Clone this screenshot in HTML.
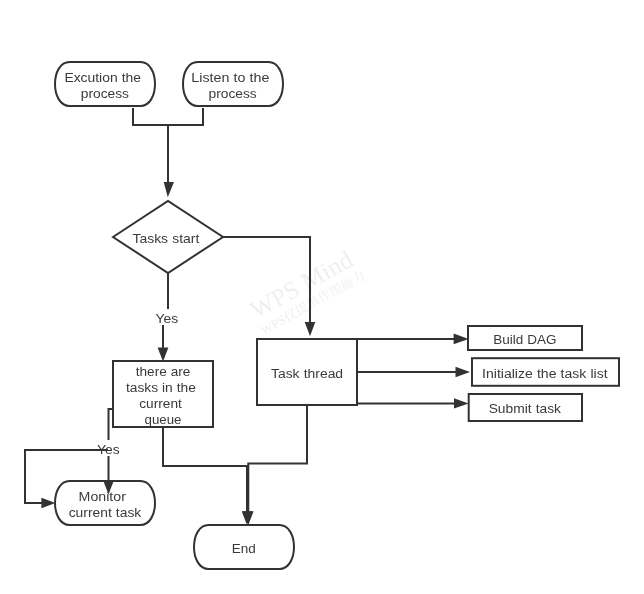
<!DOCTYPE html>
<html lang="en">
<head>
<meta charset="utf-8">
<title>Flowchart</title>
<style>
html,body{margin:0;padding:0;background:#fff;}
body{width:644px;height:594px;overflow:hidden;}
svg{display:block;will-change:transform;}
text{font-family:"Liberation Sans","Noto Sans CJK SC",sans-serif;word-spacing:0.2px;}
.wm text{fill:#efefef;word-spacing:0;}
.wm1{font-family:"Liberation Serif","Noto Serif CJK SC",serif;font-size:25.2px;}
.wm2{font-family:"Liberation Serif","Noto Serif CJK SC",serif;font-size:13px;}
</style>
</head>
<body>
<svg width="644" height="594" viewBox="0 0 644 594">
<rect x="0" y="0" width="644" height="594" fill="#fff"/>
<g class="wm" transform="translate(305.4,291.9) rotate(-29)"><text class="wm1" x="0" y="0" text-anchor="middle">WPS Mind</text><text class="wm2" x="1.2" y="17.5" text-anchor="middle">WPS仅提供作图能力</text></g>
<g stroke="#323232" stroke-width="2" fill="#fff" stroke-linejoin="miter">
<path d="M133 108 L133 125 L168 125 L168 190" fill="none" stroke-width="2"/>
<path d="M203 108 L203 125 L168 125" fill="none" stroke-width="2"/>
<polygon points="167.8,197.2 163.7,181.9 174.0,182.1" fill="#323232" stroke="none"/>
<path d="M223 237 L310 237 L310 328" fill="none" stroke-width="2"/>
<polygon points="310.00,336.30 304.70,322.00 315.30,322.00" fill="#323232" stroke="none"/>
<path d="M168 273 L168 317 L163 317 L163 350" fill="none" stroke-width="2"/>
<polygon points="163.00,361.50 157.60,347.50 168.40,347.50" fill="#323232" stroke="none"/>
<path d="M163 427 L163 466 L247 466 L247 515" fill="none" stroke-width="2"/>
<polygon points="247.00,525.00 241.70,511.20 252.30,511.20" fill="#323232" stroke="none"/>
<path d="M307 405 L307 463.5 L248.3 463.5 L248.3 515" fill="none" stroke-width="2"/>
<polygon points="248.30,525.00 243.00,511.20 253.60,511.20" fill="#323232" stroke="none"/>
<path d="M357 339 L458 339" fill="none" stroke-width="2"/>
<polygon points="468.60,338.90 453.60,333.60 453.60,344.20" fill="#323232" stroke="none"/>
<path d="M357 372 L460 372" fill="none" stroke-width="2"/>
<polygon points="470.00,372.00 455.50,366.70 455.50,377.30" fill="#323232" stroke="none"/>
<path d="M357 403.5 L458 403.5" fill="none" stroke-width="2"/>
<polygon points="468.60,403.40 454.00,398.30 454.00,408.50" fill="#323232" stroke="none"/>
<path d="M69.67 62 L140.33 62 C159.89 62 159.89 106 140.33 106 L69.67 106 C50.11 106 50.11 62 69.67 62 Z"/>
<path d="M197.67 62 L268.33 62 C287.89 62 287.89 106 268.33 106 L197.67 106 C178.11 106 178.11 62 197.67 62 Z"/>
<path d="M113 237.0 L168.0 201 L223 237.0 L168.0 273 Z"/>
<rect x="113" y="361" width="100" height="66"/>
<rect x="257" y="339" width="100" height="66"/>
<path d="M69.67 481 L140.33 481 C159.89 481 159.89 525 140.33 525 L69.67 525 C50.11 525 50.11 481 69.67 481 Z"/>
<path d="M208.67 525 L279.33 525 C298.89 525 298.89 569 279.33 569 L208.67 569 C189.11 569 189.11 525 208.67 525 Z"/>
<rect x="468" y="326" width="114" height="24"/>
<rect x="472" y="358.2" width="147" height="27.6"/>
<rect x="468.7" y="394" width="113.3" height="27"/>
<path d="M113 409 L108.5 409 L108.5 485" fill="none" stroke-width="2"/>
<polygon points="108.50,494.60 103.20,480.60 113.80,480.60" fill="#323232" stroke="none"/>
</g>
<rect x="154" y="309" width="25" height="16" fill="#fff"/>
<rect x="96" y="440" width="25" height="16" fill="#fff"/>
<g stroke="#323232" stroke-width="2" fill="none">
<path d="M108 450 L25 450 L25 503 L45 503" fill="none" stroke-width="2"/>
<polygon points="55.40,503.00 41.40,497.70 41.40,508.30" fill="#323232" stroke="none"/>
</g>
<g fill="#3a3a3a" font-size="13.3">
<text transform="translate(64.43,81.9) scale(1.0443,1)">Excution the</text>
<text transform="translate(80.8,98.0) scale(1.0343,1)">process</text>
<text transform="translate(191.29,81.9) scale(1.0728,1)">Listen to the</text>
<text transform="translate(208.49,98.0) scale(1.0365,1)">process</text>
<text transform="translate(132.44,242.7) scale(1.0493,1)">Tasks start</text>
<text transform="translate(155.41,323.0) scale(1.0491,1)">Yes</text>
<text transform="translate(135.74,375.7) scale(1.0242,1)">there are</text>
<text transform="translate(125.94,391.6) scale(1.0348,1)">tasks in the</text>
<text transform="translate(139.26,407.5) scale(1.0289,1)">current</text>
<text transform="translate(144.5,423.5) scale(1.0007,1)">queue</text>
<text transform="translate(97.11,453.8) scale(1.0443,1)">Yes</text>
<text transform="translate(270.94,377.6) scale(1.0475,1)">Task thread</text>
<text transform="translate(78.6,500.8) scale(1.0674,1)">Monitor</text>
<text transform="translate(68.65,516.7) scale(1.042,1)">current task</text>
<text transform="translate(231.66,552.8) scale(1.0161,1)">End</text>
<text transform="translate(493.16,344.1) scale(1.0162,1)">Build DAG</text>
<text transform="translate(482.08,378.4) scale(1.057,1)">Initialize the task list</text>
<text transform="translate(488.65,413.2) scale(1.0377,1)">Submit task</text>
</g>
</svg>
</body>
</html>
